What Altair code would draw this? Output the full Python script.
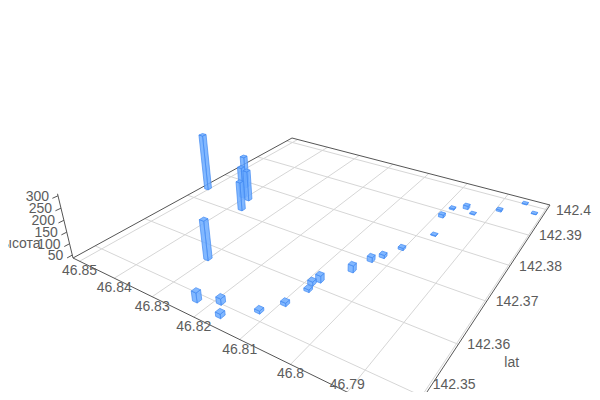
import altair as alt
import numpy as np
import pandas as pd

# ---- values ----
x_vals = [46.8504, 46.8436, 46.8389, 46.8408, 46.8372, 46.8300, 46.8227, 46.8188, 46.8165,
          46.8118, 46.8093, 46.8082, 46.8087, 46.8080, 46.8047, 46.8034, 46.8021, 46.8003,
          46.7971, 46.7988, 46.7982, 46.7957, 46.7936, 46.7892, 46.7854, 46.7824]
lat_vals = [142.3740, 142.3784, 142.3748, 142.3751, 142.3714, 142.3570, 142.3488, 142.3502, 142.3481,
            142.3516, 142.3547, 142.3589, 142.3604, 142.3616, 142.3662, 142.3700, 142.3719, 142.3754,
            142.3819, 142.3880, 142.3915, 142.3930, 142.3918, 142.3953, 142.4002, 142.3976]
heights = [300, 188, 178, 182, 170, 207, 78, 63, 55, 49, 51, 48, 54, 66, 67, 58, 51, 47,
           40, 51, 43, 53, 40, 45, 40, 39]
x_ticks = [46.85, 46.84, 46.83, 46.82, 46.81, 46.8, 46.79]
lat_ticks = [142.4, 142.39, 142.38, 142.37, 142.36, 142.35]
z_ticks = [50, 100, 150, 200, 250, 300]

X0, X1 = 46.852, 46.7805
Y0, Y1 = 142.402, 142.346
Z0, Z1 = 37.0, 300.0
HALF_X, HALF_Y = 0.00055, 0.00044
BOTTOM = 392

# ---- perspective camera for the 3D scene ----
corners_src = [(0, 0), (1, 0), (0, 1), (1, 1)]
corners_dst = [(292, 138), (550, 205), (73, 258), (407.5, 421.6)]
A, B = [], []
for (s, t), (px, py) in zip(corners_src, corners_dst):
    A.append([s, t, 1, 0, 0, 0, -s * px, -t * px]); B.append(px)
    A.append([0, 0, 0, s, t, 1, -s * py, -t * py]); B.append(py)
h = np.linalg.solve(np.array(A, float), np.array(B, float))
H = np.array([[h[0], h[1], h[2]], [h[3], h[4], h[5]], [h[6], h[7], 1.0]])
VZ = np.array([324.0, 1300.0, 1.0])
K = -0.0385


def project(xv, yv, zv=Z0):
    s = (X0 - xv) / (X0 - X1)
    t = (Y0 - yv) / (Y0 - Y1)
    q = H @ np.array([s, t, 1.0]) + K * (zv - Z0) / (Z1 - Z0) * VZ
    return q[0] / q[2], q[1] / q[2]


def seg_rows(pts, gid):
    rows = []
    for i, p in enumerate(pts):
        px, py = project(*p)
        rows.append({"px": px, "py": py, "id": gid, "o": i})
    return rows


grid_rows = []
for v in x_ticks:
    grid_rows += seg_rows([(v, Y0), (v, Y1)], f"x{v}")
for v in lat_ticks:
    grid_rows += seg_rows([(X0, v), (X1, v)], f"y{v}")
grid_rows += seg_rows([(X1 + 0.0003, Y0), (X1 + 0.0003, Y1)], "edge")

axis_rows = []
axis_rows += seg_rows([(X0, Y1), (X0, Y0)], "a1")
axis_rows += seg_rows([(X0, Y0), (X1, Y0)], "a2")
axis_rows += seg_rows([(X0, Y1), (X1, Y1)], "a3")
axis_rows += seg_rows([(X1, Y0), (X1, Y1)], "a4")
axis_rows += seg_rows([(X0, Y1, Z0), (X0, Y1, Z1 + 8)], "a5")
for v in z_ticks:
    axis_rows += seg_rows([(X0, Y1, v), (X0, Y1 - 0.0009, v)], f"zt{v}")

order = sorted(range(len(heights)),
               key=lambda i: ((X0 - x_vals[i]) / (X0 - X1)) + ((Y0 - lat_vals[i]) / (Y0 - Y1)))
face_rows = []
for i in order:
    xv, yv, zv = x_vals[i], lat_vals[i], heights[i]
    x_f, x_b = xv - HALF_X, xv + HALF_X
    y_f, y_b = yv - HALF_Y, yv + HALF_Y
    face_rows += seg_rows([(x_f, y_b, Z0), (x_f, y_f, Z0), (x_f, y_f, zv), (x_f, y_b, zv), (x_f, y_b, Z0)], f"{i:02d}a")
    face_rows += seg_rows([(x_b, y_f, Z0), (x_f, y_f, Z0), (x_f, y_f, zv), (x_b, y_f, zv), (x_b, y_f, Z0)], f"{i:02d}b")
    face_rows += seg_rows([(x_f, y_f, zv), (x_f, y_b, zv), (x_b, y_b, zv), (x_b, y_f, zv), (x_f, y_f, zv)], f"{i:02d}c")


def xlabel(v):
    px, py = project(v, Y1)
    return {"px": px, "py": min(py + 10, BOTTOM - 7), "label": f"{v:g}"}


def ylabel(v):
    px, py = project(X1, v)
    return {"px": px + 9, "py": min(py + 1, BOTTOM - 7), "label": f"{v:g}"}


x_lab = pd.DataFrame([xlabel(v) for v in x_ticks])
y_lab = pd.DataFrame([ylabel(v) for v in lat_ticks])
z_lab = pd.DataFrame([dict(zip(("px", "py"), project(X0, Y1, v)), label=f"{v:g}") for v in z_ticks])
lat_name_xy = project(X1, 142.357)
z_name_xy = project(X0, Y1, 100)
name_lat = pd.DataFrame([{"px": lat_name_xy[0], "py": lat_name_xy[1], "label": "lat"}])
name_z = pd.DataFrame([{"px": z_name_xy[0], "py": z_name_xy[1], "label": "высота"}])

xs = alt.Scale(domain=[8, 592], nice=False, zero=False)
ys = alt.Scale(domain=[BOTTOM, 8], nice=False, zero=False)
X = alt.X("px:Q", scale=xs, axis=None)
Y = alt.Y("py:Q", scale=ys, axis=None)
FONT = "Liberation Sans"
TXT = "#5c5c5c"


def lines(rows, **kw):
    return alt.Chart(pd.DataFrame(rows)).mark_line(clip=True, interpolate="linear", **kw).encode(
        x=X, y=Y, detail="id:N", order="o:Q")


def text(df, **kw):
    return alt.Chart(df).mark_text(font=FONT, fontSize=14, color=TXT, **kw).encode(x=X, y=Y, text="label:N")


bars = alt.Chart(pd.DataFrame(face_rows)).mark_line(clip=True, fill="#6cabff", fillOpacity=0.85, stroke="#4289f2", strokeWidth=0.7).encode(
    x=X, y=Y, detail="id:N", order="o:Q")

chart = alt.layer(
    lines(grid_rows, color="#d6d6d6", strokeWidth=1),
    lines(axis_rows, color="#555555", strokeWidth=1),
    bars,
    text(x_lab, align="center", baseline="middle"),
    text(y_lab, align="left", baseline="middle"),
    text(z_lab, align="right", baseline="middle", dx=-9, dy=1),
    text(name_lat, align="center", baseline="middle", dx=63, dy=4),
    text(name_z, align="right", baseline="middle", dx=-29, dy=0),
).properties(width=584, height=384, padding=0, autosize=alt.AutoSizeParams(type="none")).configure_view(stroke=None)

chart.save("out.html", embed_options={"renderer": "svg", "actions": False})
